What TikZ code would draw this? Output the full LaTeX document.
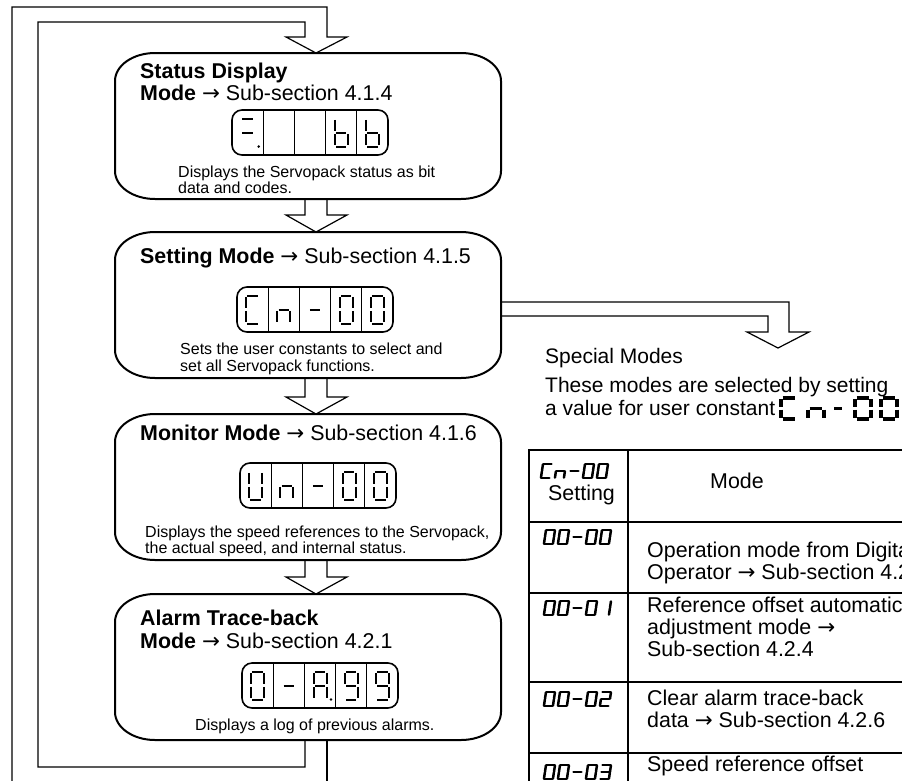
\documentclass[tikz,border=0pt]{standalone}
\usepackage{fontspec}
\setmainfont{Liberation Sans}
\newfontfamily\arrowfont{DejaVu Sans}
\newcommand\ar{{\arrowfont →}}
\usetikzlibrary{calc}
\def\segg{0.1}
\newcommand\sgA{\draw (\segg,0) -- (1-\segg,0);}
\newcommand\sgB{\draw (1,\segg) -- (1,1-\segg);}
\newcommand\sgC{\draw (1,1+\segg) -- (1,2-\segg);}
\newcommand\sgD{\draw (\segg,2) -- (1-\segg,2);}
\newcommand\sgE{\draw (0,1+\segg) -- (0,2-\segg);}
\newcommand\sgF{\draw (0,\segg) -- (0,1-\segg);}
\newcommand\sgG{\draw (\segg,1) -- (1-\segg,1);}
\newcommand\sgP{\fill (1.35,2) circle[radius=1.4pt];}
\newcommand\chC{\sgA\sgD\sgE\sgF}
\newcommand\chN{\sgC\sgE\sgG}
\newcommand\chDash{\sgG}
\newcommand\chZero{\sgA\sgB\sgC\sgD\sgE\sgF}
\newcommand\chU{\sgB\sgC\sgD\sgE\sgF}
\newcommand\chAA{\sgA\sgB\sgC\sgE\sgF\sgG}
\newcommand\chNine{\sgA\sgB\sgC\sgD\sgF\sgG}
\newcommand\chBB{\sgC\sgD\sgE\sgF\sgG}
\newcommand\chOne{\sgB\sgC}
\newcommand\chTwo{\sgA\sgB\sgG\sgE\sgD}
\newcommand\chThree{\sgA\sgB\sgG\sgC\sgD}
% #1 x, #2 y (top left), #3 width, #4 half height, #5 options, #6 segments
\newcommand\sevseg[6]{\begin{scope}[shift={(#1,#2)},x=#3pt,y=-#4pt,#5]#6\end{scope}}
% LCD window: name, x, y, five characters
\newcommand\lcd[8]{%
  \node[dispframe,anchor=north west] (#1) at (#2,#3) {};
  \foreach \i in {1,...,4}{\draw[divline] ($(#1.north west)+(31.2*\i,0)$) -- ($(#1.south west)+(31.2*\i,0)$);}
  \sevseg{#2+9.1}{#3+8.5}{13}{14}{line width=2pt}{#4}
  \sevseg{#2+40.3}{#3+8.5}{13}{14}{line width=2pt}{#5}
  \sevseg{#2+71.5}{#3+8.5}{13}{14}{line width=2pt}{#6}
  \sevseg{#2+102.7}{#3+8.5}{13}{14}{line width=2pt}{#7}
  \sevseg{#2+133.9}{#3+8.5}{13}{14}{line width=2pt}{#8}}
% small italic LCD text in the table: x, y, five characters
\newcommand\tlcd[7]{%
  \sevseg{#1}{#2}{9}{7}{line width=2.5pt,line cap=round,xslant=0.15}{\def\segg{0.06}#3}
  \sevseg{#1+14}{#2}{9}{7}{line width=2.5pt,line cap=round,xslant=0.15}{\def\segg{0.06}#4}
  \sevseg{#1+28}{#2}{9}{7}{line width=2.5pt,line cap=round,xslant=0.15}{\def\segg{0.06}#5}
  \sevseg{#1+42}{#2}{9}{7}{line width=2.5pt,line cap=round,xslant=0.15}{\def\segg{0.06}#6}
  \sevseg{#1+56}{#2}{9}{7}{line width=2.5pt,line cap=round,xslant=0.15}{\def\segg{0.06}#7}}
\newcommand\boxoutline[1]{%
  \draw[boxline] ($(#1.north west)+(40,0)$) -- ($(#1.north east)+(-40,0)$)
    arc[start angle=90,end angle=0,x radius=40pt,y radius=28pt]
    -- ($(#1.south east)+(0,-28)$)
    arc[start angle=0,end angle=-90,x radius=40pt,y radius=28pt]
    -- ($(#1.south west)+(40,0)$)
    arc[start angle=270,end angle=180,x radius=40pt,y radius=28pt]
    -- ($(#1.north west)+(0,28)$)
    arc[start angle=180,end angle=90,x radius=40pt,y radius=28pt] -- cycle;}
\newcommand\hollowdown[2]{%
  \draw[loopline] ($(#1.south)+(-3,0)$) -- ($(#2.north)+(-3,-17)$) -- ($(#2.north)+(-22,-17)$)
    -- ($(#2.north)+(8,0)$) -- ($(#2.north)+(39,-17)$) -- ($(#2.north)+(19,-17)$) -- ($(#1.south)+(19,0)$);}
\begin{document}
\begin{tikzpicture}[x=1pt,y=-1pt,
  boxshape/.style={minimum width=386pt,minimum height=146pt,inner sep=0pt,outer sep=0pt},
  boxline/.style={line width=2pt},
  loopline/.style={line width=1.2pt,line join=miter},
  ttl/.style={anchor=base west,inner sep=0pt,font=\fontsize{21.4}{22}\selectfont},
  spc/.style={anchor=base west,inner sep=0pt,font=\fontsize{21}{22}\selectfont},
  dsc/.style={anchor=base west,inner sep=0pt,font=\fontsize{16}{16}\selectfont},
  dispframe/.style={draw,line width=1.6pt,rounded corners=10pt,minimum width=156pt,minimum height=45pt,inner sep=0pt,outer sep=0pt},
  divline/.style={line width=1.2pt},
  tline/.style={line width=1.1pt},
  tthick/.style={line width=2pt}]
\useasboundingbox (0,0) rectangle (902,780);
\clip (0,0) rectangle (902,780);
% mode boxes
\node[boxshape] (b1) at (308,126) {};
\node[boxshape] (b2) at (308,305) {};
\node[boxshape] (b3) at (308,487) {};
\node[boxshape] (b4) at (308,667) {};
% connectors
\hollowdown{b1}{b2}
\hollowdown{b2}{b3}
\hollowdown{b3}{b4}
\coordinate (lbl) at (38,767);
\coordinate (ltl) at (38,22);
\coordinate (otl) at (12,7);
\coordinate (obl) at (12,790);
\draw[loopline] ($(b4.south)+(-3,0)$) |- (lbl) -- (ltl) -| ($(b1.north)+(-3,-16)$) -- ++(-19,0)
  -- ($(b1.north)+(8,0)$) -- ++(31,-16) -- ++(-20,0) |- (otl) -- (obl);
\draw[loopline] ($(b4.south)+(19,0)$) -- ++(0,50);
\coordinate (sp) at (778,348);
\draw[loopline] ($(b2.east)+(0,-3)$) -| ($(sp)+(11,-16)$) -- ($(sp)+(31,-16)$) -- (sp)
  -- ($(sp)+(-31,-16)$) -- ($(sp)+(-10,-16)$) |- ($(b2.east)+(0,11)$);
\boxoutline{b1}
\boxoutline{b2}
\boxoutline{b3}
\boxoutline{b4}
% box 1
\node[ttl] (t1a) at (140,78) {\textbf{Status Display}};
\node[ttl] (t1b) at (140,100) {\textbf{Mode} \ar{} Sub-section 4.1.4};
\lcd{L1}{232}{110}{\sgA\sgG\sgP}{}{}{\chBB}{\chBB}
\node[dsc] (d1a) at (178,177) {Displays the Servopack status as bit};
\node[dsc] (d1b) at (178,193) {data and codes.};
% box 2
\node[ttl] (t2a) at (140,263) {\textbf{Setting Mode} \ar{} Sub-section 4.1.5};
\lcd{L2}{237}{287}{\chC}{\chN}{\chDash}{\chZero}{\chZero}
\node[dsc] (d2a) at (180,354) {Sets the user constants to select and};
\node[dsc] (d2b) at (180,371) {set all Servopack functions.};
% box 3
\node[ttl] (t3a) at (140,440) {\textbf{Monitor Mode} \ar{} Sub-section 4.1.6};
\lcd{L3}{240}{463}{\chU}{\chN}{\chDash}{\chZero}{\chZero}
\node[dsc] (d3a) at (145,537) {Displays the speed references to the Servopack,};
\node[dsc] (d3b) at (145,553) {the actual speed, and internal status.};
% box 4
\node[ttl] (t4a) at (140,625) {\textbf{Alarm Trace-back}};
\node[ttl] (t4b) at (140,648) {\textbf{Mode} \ar{} Sub-section 4.2.1};
\lcd{L4}{242}{663}{\chZero}{\chDash}{\chAA\sgP}{\chNine}{\chNine}
\node[dsc] (d4a) at (195,730) {Displays a log of previous alarms.};
% special modes
\node[spc] (s1) at (545,363) {Special Modes};
\node[spc] (s2) at (545,392) {These modes are selected by setting};
\node[spc] (s3) at (545,415) {a value for user constant};
\sevseg{781}{398}{16}{10.5}{line width=3.4pt}{\chC}
\sevseg{808}{398}{16}{10.5}{line width=3.4pt}{\chN}
\sevseg{830}{398}{16}{10.5}{line width=3.4pt}{\def\segg{0.25}\chDash}
\sevseg{855}{398}{16}{10.5}{line width=3.4pt}{\chZero}
\sevseg{881}{398}{16}{10.5}{line width=3.4pt}{\chZero}
% table
\draw[tline] (910,450) -- (529,450) -- (529,790);
\draw[tline] (628,450) -- (628,790);
\draw[tthick] (529,522) -- (910,522);
\draw[tline] (529,593) -- (910,593);
\draw[tthick] (529,682) -- (910,682);
\draw[tline] (529,753) -- (910,753);
\tlcd{543}{464}{\chC}{\chN}{\chDash}{\chZero}{\chZero}
\node[ttl] (h1) at (548,500) {Setting};
\node[ttl,anchor=base] (h2) at (737,488) {Mode};
\tlcd{546}{530}{\chZero}{\chZero}{\chDash}{\chZero}{\chZero}
\node[ttl] (r1a) at (647,557) {Operation mode from Digita};
\node[ttl] (r1b) at (647,579) {Operator \ar{} Sub-section 4.2};
\tlcd{546}{601}{\chZero}{\chZero}{\chDash}{\chZero}{\chOne}
\node[ttl] (r2a) at (647,612) {Reference offset automatic};
\node[ttl] (r2b) at (647,634) {adjustment mode \ar};
\node[ttl] (r2c) at (647,656) {Sub-section 4.2.4};
\tlcd{546}{692}{\chZero}{\chZero}{\chDash}{\chZero}{\chTwo}
\node[ttl] (r3a) at (647,705) {Clear alarm trace-back};
\node[ttl] (r3b) at (647,727) {data \ar{} Sub-section 4.2.6};
\tlcd{546}{765}{\chZero}{\chZero}{\chDash}{\chZero}{\chThree}
\node[ttl] (r4a) at (647,771) {Speed reference offset};
\end{tikzpicture}
\end{document}
